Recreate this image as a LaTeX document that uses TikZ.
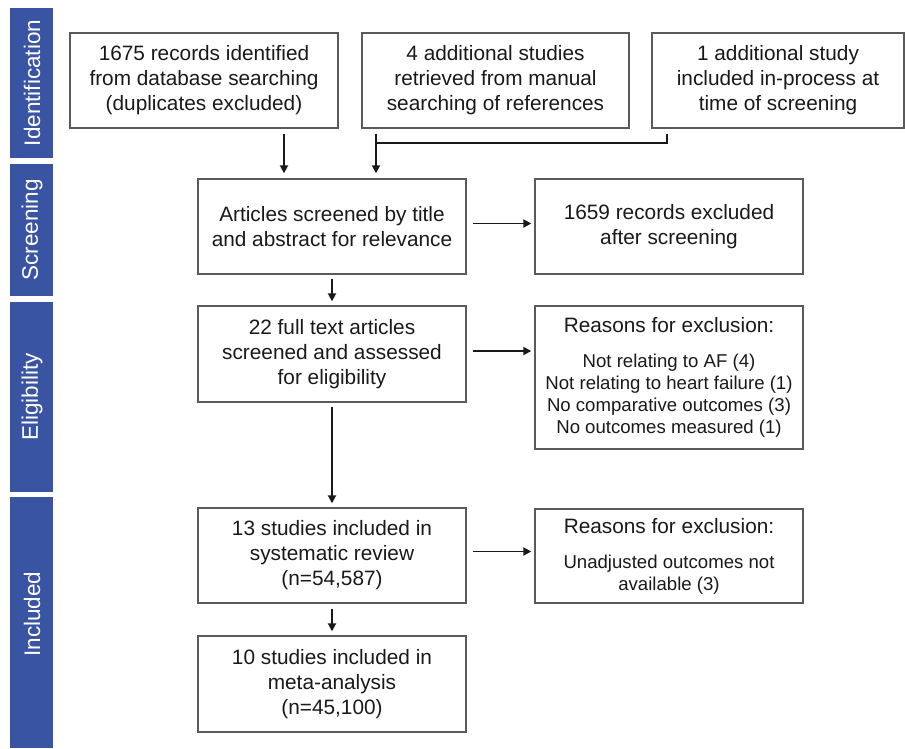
\documentclass[tikz,border=0pt]{standalone}
\usepackage{fontspec}
\setmainfont{Liberation Sans}
\usetikzlibrary{arrows.meta}
\definecolor{sidebar}{RGB}{58,84,164}
\definecolor{boxline}{RGB}{90,90,90}
\definecolor{ink}{RGB}{25,25,25}
\begin{document}
\begin{tikzpicture}[x=1pt,y=-1pt,
  box/.style={draw=boxline, line width=1.4pt, inner sep=0pt, align=center, text=ink,
    font=\fontsize{20.8}{25}\selectfont},
  reasonbox/.style={box, font=\fontsize{18.6}{22.2}\selectfont},
  arr/.style={draw=ink, line width=1.8pt, -{Triangle[length=8pt,width=8pt]}},
  conn/.style={draw=ink, line width=1.8pt},
  bandtext/.style={rotate=90, text=white, font=\fontsize{22.5}{26}\selectfont, inner sep=0pt}]
\useasboundingbox (0,0) rectangle (905,748);

% phase bands
\fill[sidebar] (10,8) rectangle (53,158);
\fill[sidebar] (10,164) rectangle (53,296);
\fill[sidebar] (10,302) rectangle (53,492);
\fill[sidebar] (10,497) rectangle (53,748);
\node[bandtext] (tI) at (32,83) {Identification};
\node[bandtext] (tS) at (32,230) {Screening};
\node[bandtext] (tE) at (32,397) {Eligibility};
\node[bandtext] (tN) at (32,614) {Included};

% boxes
\node[box, minimum width=268pt, minimum height=95pt] (A) at (204,80.5)
  {1675 records identified\\from database searching\\(duplicates excluded)};
\node[box, minimum width=267pt, minimum height=95pt] (B) at (495.5,80.5)
  {4 additional studies\\retrieved from manual\\searching of references};
\node[box, minimum width=252pt, minimum height=95pt] (C) at (778,80.5)
  {1 additional study\\included in-process at\\time of screening};
\node[box, minimum width=268pt, minimum height=95pt] (S) at (332,226.5)
  {Articles screened by title\\and abstract for relevance};
\node[box, minimum width=268pt, minimum height=95pt] (X) at (669,226.5)
  {1659 records excluded\\after screening};
\node[box, minimum width=268pt, minimum height=96pt] (F) at (332,354)
  {22 full text articles\\screened and assessed\\for eligibility};
\node[reasonbox, minimum width=268pt, minimum height=143pt] (R1) at (669,377.5)
  {{\fontsize{20.8}{25}\selectfont Reasons for exclusion:}\\[12.8pt]
   Not relating to AF (4)\\Not relating to heart failure (1)\\
   No comparative outcomes (3)\\No outcomes measured (1)};
\node[box, minimum width=268pt, minimum height=95pt] (T) at (332,555.5)
  {13 studies included in\\systematic review\\(n=54,587)};
\node[reasonbox, minimum width=268pt, minimum height=94pt] (R2) at (669,556)
  {{\fontsize{20.8}{25}\selectfont Reasons for exclusion:}\\[12.8pt]
   Unadjusted outcomes not\\available (3)};
\node[box, minimum width=268pt, minimum height=96pt] (M) at (332,684)
  {10 studies included in\\meta-analysis\\(n=45,100)};

% connectors
\coordinate (xa) at (284,0);
\coordinate (xb) at (376,0);
\coordinate (xc) at (667,0);
\coordinate (jn) at (376,143);
\draw[arr, shorten <=5pt, shorten >=5pt] (A.south -| xa) -- (S.north -| xa);
\draw[arr, shorten <=5pt, shorten >=5pt] (B.south -| xb) -- (S.north -| xb);
\draw[conn, shorten <=5pt] (C.south -| xc) |- (jn);
\draw[arr, shorten <=6pt, shorten >=3pt] ([yshift=3pt]S.east) -- ([yshift=3pt]S.east -| X.west);
\draw[arr, shorten <=4pt, shorten >=4pt] (S.south) -- (F.north);
\draw[arr, shorten <=6pt, shorten >=3pt] ([yshift=3pt]F.east) -- ([yshift=3pt]F.east -| R1.west);
\draw[arr, shorten <=4pt, shorten >=4pt] (F.south) -- (T.north);
\draw[arr, shorten <=6pt, shorten >=3pt] ([yshift=4pt]T.east) -- ([yshift=4pt]T.east -| R2.west);
\draw[arr, shorten <=5pt, shorten >=4pt] (T.south) -- (M.north);
\end{tikzpicture}
\end{document}
